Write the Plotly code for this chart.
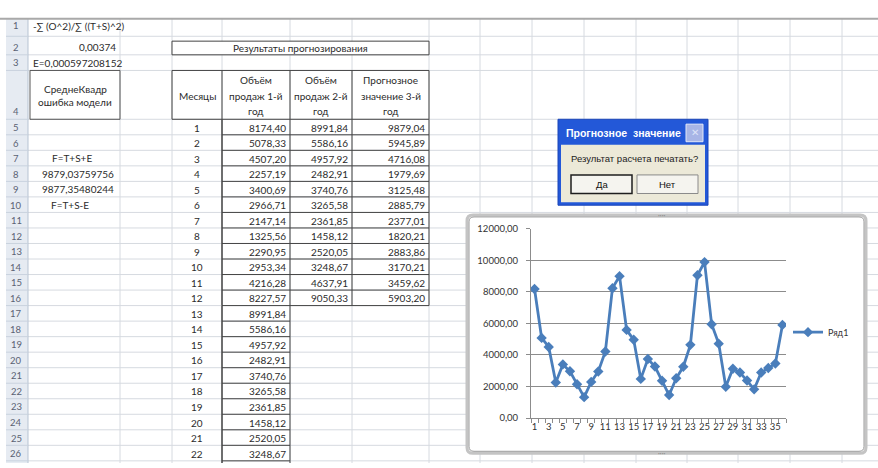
import plotly.graph_objects as go

W, H = 878, 468

# ---------------- data ----------------
months = list(range(1, 37))
year1 = [8174.40, 5078.33, 4507.20, 2257.19, 3400.69, 2966.71, 2147.14, 1325.56, 2290.95, 2953.34, 4216.28, 8227.57]
year2 = [8991.84, 5586.16, 4957.92, 2482.91, 3740.76, 3265.58, 2361.85, 1458.12, 2520.05, 3248.67, 4637.91, 9050.33]
year3 = [9879.04, 5945.89, 4716.08, 1979.69, 3125.48, 2885.79, 2377.01, 1820.21, 2883.86, 3170.21, 3459.62, 5903.20]
series_name = "Ряд1"
x_tick_values = list(range(1, 36, 2))
x_tick_labels = [str(v) for v in x_tick_values]
y_tick_values = [0, 2000, 4000, 6000, 8000, 10000, 12000]

table_title = "Результаты прогнозирования"
table_months = list(range(1, 13))
extra_months = list(range(13, 23))
extra_col_d = [8991.84, 5586.16, 4957.92, 2482.91, 3740.76, 3265.58, 2361.85, 1458.12, 2520.05, 3248.67]
header_months = "Месяцы"
header_d = ["Объём", "продаж 1-й", "год"]
header_e = ["Объём", "продаж 2-й", "год"]
header_f = ["Прогнозное", "значение 3-й", "год"]

cell_a1 = "-∑ (O^2)/∑ ((T+S)^2)"
cell_a2 = "0,00374"
cell_a3 = "E=0,000597208152"
cell_a4 = ["СреднеКвадр", "ошибка модели"]
cell_a7 = "F=T+S+E"
cell_a8 = "9879,03759756"
cell_a9 = "9877,35480244"
cell_a10 = "F=T+S-E"

dialog_title = "Прогнозное  значение"
dialog_msg = "Результат расчета печатать?"
btn_yes = "Да"
btn_no = "Нет"

FONT = "Lato"
TXT = "#2b2b2b"


def X(px):
    return px / W


def Y(py):
    return 1 - py / H


shapes = []
annotations = []


def rect(x0, y0, x1, y1, fill=None, line=None, lw=1, layer="below"):
    shapes.append(dict(type="rect", xref="paper", yref="paper",
                       x0=X(x0), x1=X(x1), y0=Y(y1), y1=Y(y0),
                       fillcolor=fill or "rgba(0,0,0,0)",
                       line=dict(color=line or "rgba(0,0,0,0)", width=lw if line else 0),
                       layer=layer))


def hline(x0, x1, y, color, w=1, layer="below"):
    shapes.append(dict(type="line", xref="paper", yref="paper",
                       x0=X(x0), x1=X(x1), y0=Y(y), y1=Y(y),
                       line=dict(color=color, width=w), layer=layer))


def vline(x, y0, y1, color, w=1, layer="below"):
    shapes.append(dict(type="line", xref="paper", yref="paper",
                       x0=X(x), x1=X(x), y0=Y(y0), y1=Y(y1),
                       line=dict(color=color, width=w), layer=layer))


def text(x, y, s, anchor="center", size=10, color=TXT, family=FONT):
    annotations.append(dict(xref="paper", yref="paper", x=X(x), y=Y(y), text=s,
                            showarrow=False, xanchor=anchor, yanchor="middle",
                            font=dict(size=size, color=color, family=family)))


def fmt(v):
    return f"{v:.2f}".replace(".", ",")


# ---------------- sheet geometry ----------------
row_edges = [13, 31, 50, 66, 116] + [116 + 15.9 * k for k in range(1, 24)]
col_edges = [28, 120, 172, 222, 290, 352, 429, 480, 532, 584, 636, 687, 738, 790, 842, 894]
GRID = "#D6DAE0"


def row_center(r):
    return (row_edges[r - 1] + row_edges[r]) / 2


# grid lines
for y in row_edges[1:]:
    hline(28, W, y, GRID, 1)
for x in col_edges[1:]:
    vline(x, 13, H, GRID, 1)

# row header column
rect(6, 13, 28, H, fill="#E6EBF2")
vline(28, 13, H, "#B7C3D3", 1)
for y in row_edges[1:]:
    hline(6, 28, y, "#C9D2DE", 1)
hline(0, W, 13, "#A9A9A9", 2)

row_label_y = {1: 20, 2: 42, 3: 58, 4: 108}
for r in range(1, 27):
    yy = row_label_y.get(r, row_center(r) + 0.5 if r < len(row_edges) else 0)
    text(16, yy, str(r), size=9.5, color="#5a6272")

# column A texts
text(31, 20, cell_a1, anchor="left")
text(118, 42, cell_a2, anchor="right")
text(31, 58, cell_a3, anchor="left")
rect(30, 66, 120, 116, line="#555555", lw=1)
text(75, 85, cell_a4[0])
text(75, 98, cell_a4[1])
text(72, row_center(7), cell_a7)
text(78, row_center(8), cell_a8)
text(78, row_center(9), cell_a9)
text(70, row_center(10), cell_a10)

# table title box
rect(172, 36, 429, 50, fill="white", line="#444444", lw=1)
text(300.5, 43, table_title)

# header row 4
rect(172, 66, 429, 116, line="#444444", lw=1)
for x in [222, 290, 352]:
    vline(x, 66, 116, "#444444", 1)
text(197, 92, header_months)
for cx, lines in [(256, header_d), (321, header_e), (390.5, header_f)]:
    for i, ln in enumerate(lines):
        text(cx, 76 + 16 * i, ln)

# table body rows 5..16
body_top = row_edges[4]
body_bottom_main = row_edges[16]
for x in [222, 290, 352, 429]:
    vline(x, body_top, body_bottom_main, "#444444", 1.5 if x == 222 else 1)
for r in range(5, 17):
    hline(222, 429, row_edges[r], "#444444", 1)
for i, m in enumerate(table_months):
    r = 5 + i
    cy = row_center(r) + 0.5
    text(197, cy, str(m))
    text(288, cy, fmt(year1[i]), anchor="right")
    text(350, cy, fmt(year2[i]), anchor="right")
    text(427, cy, fmt(year3[i]), anchor="right")

# rows 17..26 only column D
vline(222, row_edges[16], H, "#444444", 1.5)
vline(290, row_edges[16], H, "#444444", 1)
for r in range(17, 27):
    hline(222, 290, row_edges[r], "#444444", 1)
for i, m in enumerate(extra_months):
    r = 17 + i
    cy = row_center(r) + 0.5
    text(197, cy, str(m))
    text(288, cy, fmt(extra_col_d[i]), anchor="right")

# ---------------- chart frame ----------------
CX0, CY0, CX1, CY1 = 467, 214, 866, 458


def rounded_path(x0, y0, x1, y1, r):
    pts = [
        f"M {X(x0 + r)},{Y(y0)}",
        f"L {X(x1 - r)},{Y(y0)}",
        f"Q {X(x1)},{Y(y0)} {X(x1)},{Y(y0 + r)}",
        f"L {X(x1)},{Y(y1 - r)}",
        f"Q {X(x1)},{Y(y1)} {X(x1 - r)},{Y(y1)}",
        f"L {X(x0 + r)},{Y(y1)}",
        f"Q {X(x0)},{Y(y1)} {X(x0)},{Y(y1 - r)}",
        f"L {X(x0)},{Y(y0 + r)}",
        f"Q {X(x0)},{Y(y0)} {X(x0 + r)},{Y(y0)}",
        "Z",
    ]
    return " ".join(pts)


shapes.append(dict(type="path", xref="paper", yref="paper", path=rounded_path(CX0, CY0, CX1, CY1, 6),
                   fillcolor="white", line=dict(color="#C4C4C4", width=3), layer="below"))
shapes.append(dict(type="path", xref="paper", yref="paper", path=rounded_path(CX0 + 2, CY0 + 2, CX1 - 2, CY1 - 2, 5),
                   fillcolor="white", line=dict(color="#9A9A9A", width=1), layer="below"))
text(661, CY0, "····", size=7, color="#8a8a8a")
text(661, CY1, "····", size=7, color="#8a8a8a")

# ---------------- dialog ----------------
rect(558, 116, 708, 204, fill="#2358D8", line="#1B45B8", lw=1, layer="above")
rect(561, 142, 705, 201, fill="#ECE9D8", layer="above")
rect(686, 121, 703, 139, fill="#A8B5E6", line="#E3E8F8", lw=1, layer="above")
text(694.5, 130, "✕", size=10, color="#DDE3F7", family="DejaVu Sans")
text(564, 130, "<b>" + dialog_title + "</b>", anchor="left", size=10.5, color="white", family="Liberation Sans")
text(634, 156, dialog_msg, size=9.5, color="#222222", family="Liberation Sans")
rect(571, 173, 632, 192, fill="#F5F4EF", line="#1E1E1E", lw=1.5, layer="above")
rect(637, 173, 698, 192, fill="#F5F4EF", line="#8A8A8A", lw=1, layer="above")
text(601.5, 182.5, btn_yes, size=9.5, color="#111111", family="Liberation Sans")
text(667.5, 182.5, btn_no, size=9.5, color="#111111", family="Liberation Sans")

# ---------------- chart ----------------
series_values = year1 + year2 + year3

fig = go.Figure()
fig.add_trace(go.Scatter(
    x=months, y=series_values, name=series_name, mode="lines+markers",
    line=dict(color="#4A7EBB", width=2.8),
    marker=dict(symbol="diamond", size=8, color="#4A7EBB"),
))

GRIDC = "#8C8C8C"
fig.update_layout(
    width=W, height=H,
    margin=dict(l=0, r=0, t=0, b=0),
    paper_bgcolor="white",
    plot_bgcolor="rgba(0,0,0,0)",
    separators=", ",
    font=dict(family=FONT, color=TXT, size=10),
    shapes=shapes,
    annotations=annotations,
    showlegend=True,
    legend=dict(x=X(788), y=Y(334), xanchor="left", yanchor="middle",
                bgcolor="rgba(0,0,0,0)", font=dict(size=9, color="#333333", family=FONT),
                itemwidth=30),
    xaxis=dict(
        domain=[X(531), X(786)],
        range=[0.5, 36.5],
        tickmode="array", tickvals=x_tick_values, ticktext=x_tick_labels,
        showgrid=False, zeroline=False,
        showline=True, linecolor=GRIDC, linewidth=1,
        ticks="",
        tickfont=dict(size=9.5, color="#333333", family=FONT),
        minor=dict(ticks="outside", ticklen=4, tickcolor=GRIDC, tickwidth=1,
                   tickmode="linear", tick0=0.5, dtick=1, showgrid=False),
    ),
    yaxis=dict(
        domain=[Y(422), Y(228)],
        range=[0, 12000],
        tickmode="array", tickvals=y_tick_values,
        tickformat=".2f",
        showgrid=True, gridcolor=GRIDC, gridwidth=1.3,
        zeroline=False,
        showline=True, linecolor=GRIDC, linewidth=1,
        ticks="outside", ticklen=4, tickcolor=GRIDC,
        ticklabelstandoff=6,
        tickfont=dict(size=9.5, color="#333333", family=FONT),
    ),
)

fig.write_html("out.html", config={"displayModeBar": False},
               post_script="document.body.style.margin='0';document.body.style.overflow='hidden';")
